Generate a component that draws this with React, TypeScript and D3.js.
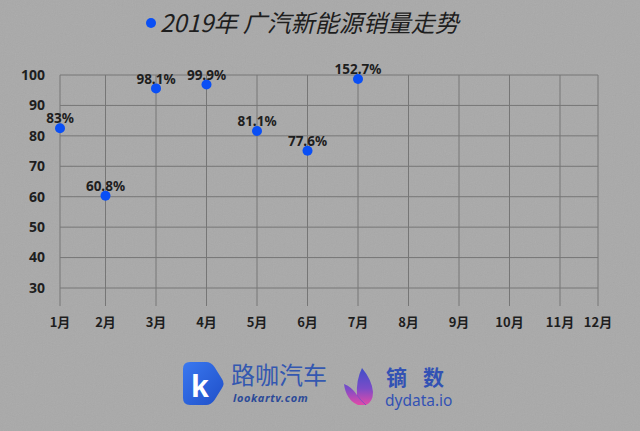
import React from "react";
import * as d3 from "d3";

const months = ["1月", "2月", "3月", "4月", "5月", "6月", "7月", "8月", "9月", "10月", "11月", "12月"];
const monthIndex = [1, 2, 3, 4, 5, 6, 7, 8, 9, 10, 11, 12];
const yTicks = [30, 40, 50, 60, 70, 80, 90, 100];
const pointMonths = [1, 2, 3, 4, 5, 6, 7];
const pointValues = [82.5, 60.3, 95.6, 96.9, 81.6, 75.1, 98.7];
const pointLabels = ["83%", "60.8%", "98.1%", "99.9%", "81.1%", "77.6%", "152.7%"];
const title = "2019年 广汽新能源销量走势";

const W = 640;
const H = 431;
const top = 75;
const bottom = 288;
const left = 60;
const right = 598;

export default function App() {
  const x = d3.scaleLinear().domain([1, 2, 11, 12]).range([left, 105.5, 560, right]);
  const y = d3.scaleLinear().domain([30, 100]).range([bottom, top]);
  const font = "'Noto Sans', 'Noto Sans CJK SC', sans-serif";
  const cjk = "'Noto Sans CJK SC', 'Noto Sans', sans-serif";
  const textC = "#1e1e1e";
  const grid = "#767676";
  const dot = "#0a4ff5";

  return (
    <svg width={W} height={H} style={{ position: "absolute", left: 0, top: 0 }} fontFamily={font}>
      <defs>
        <filter id="paper" x="0" y="0" width="100%" height="100%">
          <feTurbulence type="fractalNoise" baseFrequency="0.9" numOctaves={2} seed={3} result="n" />
          <feColorMatrix type="saturate" values="0" />
        </filter>
        <linearGradient id="kgrad" x1="0" y1="0" x2="1" y2="1">
          <stop offset="0" stopColor="#3a78f0" />
          <stop offset="1" stopColor="#1f4fc8" />
        </linearGradient>
        <linearGradient id="bgrad" x1="0" y1="0" x2="0" y2="1">
          <stop offset="0" stopColor="#3f4ec8" />
          <stop offset="0.55" stopColor="#7a4cc8" />
          <stop offset="1" stopColor="#e24aa8" />
        </linearGradient>
      </defs>
      <rect width={W} height={H} fill="#a9a9a9" />
      <rect width={W} height={H} filter="url(#paper)" opacity={0.1} />

      {/* title */}
      <circle cx={151} cy={23} r={5} fill={dot} />
      <text x={160} y={32} fontSize={24} fontStyle="italic" fill={textC} fontFamily={cjk}>
        {title}
      </text>

      {/* horizontal grid */}
      {yTicks.map((t) => (
        <g key={"y" + t}>
          <line x1={left} x2={right} y1={y(t)} y2={y(t)} stroke={grid} strokeWidth={1} />
          <text x={45} y={y(t)} dy="0.35em" textAnchor="end" fontSize={14} fontWeight={700} fill={textC}>
            {t}
          </text>
        </g>
      ))}

      {/* vertical grid */}
      {monthIndex.map((m, i) => (
        <g key={"x" + m}>
          <line x1={x(m)} x2={x(m)} y1={top} y2={306} stroke={grid} strokeWidth={1} />
          <text x={x(m)} y={322} dy="0.35em" textAnchor="middle" fontSize={13} fontWeight={700} fill={textC} fontFamily={cjk}>
            {months[i]}
          </text>
        </g>
      ))}

      {/* points */}
      {pointMonths.map((m, i) => (
        <g key={"p" + m}>
          <circle cx={x(m)} cy={y(pointValues[i])} r={5} fill={dot} />
          <text x={x(m)} y={y(pointValues[i]) - 9.5} dy="0.35em" textAnchor="middle" fontSize={13.5} fontWeight={700} fill={textC}>
            {pointLabels[i]}
          </text>
        </g>
      ))}

      {/* lookartv logo */}
      <path
        d="M190 362 L206 362 Q211 362 214.5 367 L222 379 Q225 383.5 222 388 L214.5 400 Q211 405 206 405 L190 405 Q183 405 183 398 L183 369 Q183 362 190 362 Z"
        fill="url(#kgrad)"
      />
      <text x={200} y={397} textAnchor="middle" fontSize={32} fontWeight={700} fill="#ffffff" fontFamily="'Liberation Sans', sans-serif">
        k
      </text>
      <text x={231} y={384} fontSize={24} fill="#3458b0" fontFamily={cjk}>
        路咖汽车
      </text>
      <text x={233} y={402} fontSize={11} fontStyle="italic" fontWeight={700} fill="#2c4a98" letterSpacing={0.6}>
        lookartv.com
      </text>

      {/* dydata logo */}
      <path d="M358 405 Q346 400 344 384 Q352 387 357 395 Q356 380 362 368 Q372 380 373 392 Q373 402 366 405 Z" fill="url(#bgrad)" />
      <path d="M357 395 Q360 400 366 405" stroke="#8a4cc0" strokeWidth={1} fill="none" />
      <text x={386} y={385} fontSize={21} fontWeight={700} fill="#3352b4" fontFamily={cjk}>
        镝
      </text>
      <text x={423} y={385} fontSize={21} fontWeight={700} fill="#3352b4" fontFamily={cjk}>
        数
      </text>
      <text x={385} y={406} fontSize={15.5} fill="#3352b4" fontFamily="'Noto Sans', sans-serif">
        dydata.io
      </text>
    </svg>
  );
}
